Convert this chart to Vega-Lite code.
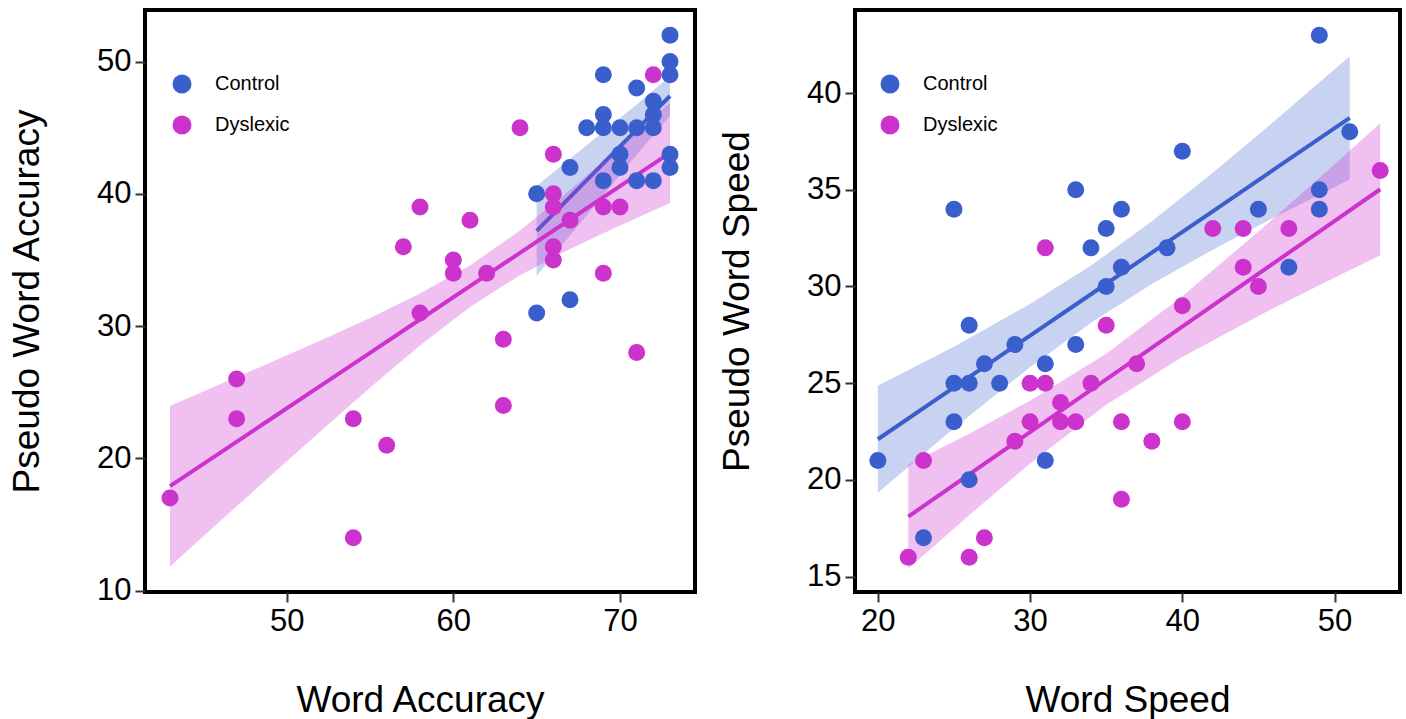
{
  "$schema": "https://vega.github.io/schema/vega-lite/v6.json",
  "padding": {"left": 6, "top": 8, "right": 0, "bottom": 0},
  "config": {
    "font": "Liberation Sans",
    "view": {"stroke": "black", "strokeWidth": 4},
    "axis": {"grid": false, "domain": false, "tickColor": "#333333", "tickWidth": 2, "tickSize": 10, "labelFontSize": 31, "labelColor": "black", "labelPadding": 4, "titleFontSize": 37, "titleFontWeight": "normal", "titleColor": "black"},
    "axisX": {"titlePadding": 46},
    "axisY": {"titlePadding": 50},
    "legend": {"padding": 0, "labelFontSize": 20, "labelColor": "black", "symbolSize": 361, "symbolStrokeWidth": 0, "symbolOpacity": 1, "rowPadding": 21, "labelOffset": 23}
  },
  "datasets": {
    "accPts": [
      {"g": "Control", "x": 73, "y": 52}, {"g": "Control", "x": 73, "y": 50}, {"g": "Control", "x": 73, "y": 49}, {"g": "Control", "x": 73, "y": 43}, {"g": "Control", "x": 73, "y": 42},
      {"g": "Control", "x": 72, "y": 47}, {"g": "Control", "x": 72, "y": 46}, {"g": "Control", "x": 72, "y": 45}, {"g": "Control", "x": 72, "y": 41},
      {"g": "Control", "x": 71, "y": 48}, {"g": "Control", "x": 71, "y": 45}, {"g": "Control", "x": 71, "y": 41},
      {"g": "Control", "x": 70, "y": 45}, {"g": "Control", "x": 70, "y": 43}, {"g": "Control", "x": 70, "y": 42},
      {"g": "Control", "x": 69, "y": 49}, {"g": "Control", "x": 69, "y": 46}, {"g": "Control", "x": 69, "y": 45}, {"g": "Control", "x": 69, "y": 41},
      {"g": "Control", "x": 68, "y": 45}, {"g": "Control", "x": 67, "y": 42}, {"g": "Control", "x": 67, "y": 32}, {"g": "Control", "x": 65, "y": 40}, {"g": "Control", "x": 65, "y": 31},
      {"g": "Dyslexic", "x": 72, "y": 49}, {"g": "Dyslexic", "x": 64, "y": 45}, {"g": "Dyslexic", "x": 66, "y": 43}, {"g": "Dyslexic", "x": 66, "y": 40}, {"g": "Dyslexic", "x": 66, "y": 39},
      {"g": "Dyslexic", "x": 67, "y": 38}, {"g": "Dyslexic", "x": 69, "y": 39}, {"g": "Dyslexic", "x": 70, "y": 39}, {"g": "Dyslexic", "x": 66, "y": 36}, {"g": "Dyslexic", "x": 66, "y": 35},
      {"g": "Dyslexic", "x": 58, "y": 39}, {"g": "Dyslexic", "x": 61, "y": 38}, {"g": "Dyslexic", "x": 57, "y": 36}, {"g": "Dyslexic", "x": 60, "y": 35}, {"g": "Dyslexic", "x": 60, "y": 34},
      {"g": "Dyslexic", "x": 62, "y": 34}, {"g": "Dyslexic", "x": 58, "y": 31}, {"g": "Dyslexic", "x": 69, "y": 34}, {"g": "Dyslexic", "x": 63, "y": 29}, {"g": "Dyslexic", "x": 71, "y": 28},
      {"g": "Dyslexic", "x": 47, "y": 26}, {"g": "Dyslexic", "x": 47, "y": 23}, {"g": "Dyslexic", "x": 54, "y": 23}, {"g": "Dyslexic", "x": 56, "y": 21}, {"g": "Dyslexic", "x": 43, "y": 17},
      {"g": "Dyslexic", "x": 54, "y": 14}, {"g": "Dyslexic", "x": 63, "y": 24}
    ],
    "accFit": [
      {"g": "Control", "x": 65, "fit": 37.2, "lo": 33.8, "hi": 40.6},
      {"g": "Control", "x": 67, "fit": 39.75, "lo": 36.85, "hi": 42.65},
      {"g": "Control", "x": 69, "fit": 42.3, "lo": 39.9, "hi": 44.7},
      {"g": "Control", "x": 71, "fit": 44.85, "lo": 42.95, "hi": 46.75},
      {"g": "Control", "x": 73, "fit": 47.4, "lo": 45.9, "hi": 48.9},
      {"g": "Dyslexic", "x": 43, "fit": 17.9, "lo": 11.83, "hi": 23.97},
      {"g": "Dyslexic", "x": 46, "fit": 20.42, "lo": 15.24, "hi": 25.6},
      {"g": "Dyslexic", "x": 49, "fit": 22.94, "lo": 18.65, "hi": 27.23},
      {"g": "Dyslexic", "x": 52, "fit": 25.46, "lo": 22.02, "hi": 28.9},
      {"g": "Dyslexic", "x": 55, "fit": 27.98, "lo": 25.34, "hi": 30.62},
      {"g": "Dyslexic", "x": 58, "fit": 30.5, "lo": 28.54, "hi": 32.46},
      {"g": "Dyslexic", "x": 61, "fit": 33.02, "lo": 31.45, "hi": 34.59},
      {"g": "Dyslexic", "x": 64, "fit": 35.54, "lo": 33.85, "hi": 37.23},
      {"g": "Dyslexic", "x": 67, "fit": 38.06, "lo": 35.83, "hi": 40.29},
      {"g": "Dyslexic", "x": 70, "fit": 40.58, "lo": 37.61, "hi": 43.55},
      {"g": "Dyslexic", "x": 73, "fit": 43.1, "lo": 39.3, "hi": 46.9}
    ],
    "spdPts": [
      {"g": "Control", "x": 49, "y": 43}, {"g": "Control", "x": 51, "y": 38}, {"g": "Control", "x": 40, "y": 37}, {"g": "Control", "x": 33, "y": 35}, {"g": "Control", "x": 25, "y": 34},
      {"g": "Control", "x": 36, "y": 34}, {"g": "Control", "x": 35, "y": 33}, {"g": "Control", "x": 34, "y": 32}, {"g": "Control", "x": 39, "y": 32}, {"g": "Control", "x": 45, "y": 34},
      {"g": "Control", "x": 49, "y": 35}, {"g": "Control", "x": 49, "y": 34}, {"g": "Control", "x": 36, "y": 31}, {"g": "Control", "x": 35, "y": 30}, {"g": "Control", "x": 47, "y": 31},
      {"g": "Control", "x": 26, "y": 28}, {"g": "Control", "x": 29, "y": 27}, {"g": "Control", "x": 33, "y": 27}, {"g": "Control", "x": 27, "y": 26}, {"g": "Control", "x": 31, "y": 26},
      {"g": "Control", "x": 25, "y": 25}, {"g": "Control", "x": 26, "y": 25}, {"g": "Control", "x": 28, "y": 25}, {"g": "Control", "x": 25, "y": 23}, {"g": "Control", "x": 20, "y": 21},
      {"g": "Control", "x": 31, "y": 21}, {"g": "Control", "x": 26, "y": 20}, {"g": "Control", "x": 23, "y": 17},
      {"g": "Dyslexic", "x": 53, "y": 36}, {"g": "Dyslexic", "x": 31, "y": 32}, {"g": "Dyslexic", "x": 42, "y": 33}, {"g": "Dyslexic", "x": 44, "y": 33}, {"g": "Dyslexic", "x": 47, "y": 33},
      {"g": "Dyslexic", "x": 44, "y": 31}, {"g": "Dyslexic", "x": 45, "y": 30}, {"g": "Dyslexic", "x": 40, "y": 29}, {"g": "Dyslexic", "x": 35, "y": 28}, {"g": "Dyslexic", "x": 37, "y": 26},
      {"g": "Dyslexic", "x": 30, "y": 25}, {"g": "Dyslexic", "x": 31, "y": 25}, {"g": "Dyslexic", "x": 34, "y": 25}, {"g": "Dyslexic", "x": 32, "y": 24}, {"g": "Dyslexic", "x": 30, "y": 23},
      {"g": "Dyslexic", "x": 32, "y": 23}, {"g": "Dyslexic", "x": 33, "y": 23}, {"g": "Dyslexic", "x": 36, "y": 23}, {"g": "Dyslexic", "x": 40, "y": 23}, {"g": "Dyslexic", "x": 29, "y": 22},
      {"g": "Dyslexic", "x": 38, "y": 22}, {"g": "Dyslexic", "x": 23, "y": 21}, {"g": "Dyslexic", "x": 36, "y": 19}, {"g": "Dyslexic", "x": 27, "y": 17}, {"g": "Dyslexic", "x": 22, "y": 16},
      {"g": "Dyslexic", "x": 26, "y": 16}
    ],
    "spdFit": [
      {"g": "Control", "x": 20, "fit": 22.1, "lo": 19.33, "hi": 24.87},
      {"g": "Control", "x": 25, "fit": 24.78, "lo": 22.67, "hi": 26.89},
      {"g": "Control", "x": 30, "fit": 27.46, "lo": 25.83, "hi": 29.09},
      {"g": "Control", "x": 34, "fit": 29.6, "lo": 28.12, "hi": 31.08},
      {"g": "Control", "x": 38, "fit": 31.75, "lo": 30.13, "hi": 33.37},
      {"g": "Control", "x": 42, "fit": 33.89, "lo": 31.9, "hi": 35.88},
      {"g": "Control", "x": 46, "fit": 36.04, "lo": 33.56, "hi": 38.52},
      {"g": "Control", "x": 51, "fit": 38.72, "lo": 35.53, "hi": 41.91},
      {"g": "Dyslexic", "x": 22, "fit": 18.1, "lo": 15.4, "hi": 20.8},
      {"g": "Dyslexic", "x": 26, "fit": 20.28, "lo": 18.17, "hi": 22.39},
      {"g": "Dyslexic", "x": 30, "fit": 22.47, "lo": 20.85, "hi": 24.09},
      {"g": "Dyslexic", "x": 35, "fit": 25.2, "lo": 23.88, "hi": 26.52},
      {"g": "Dyslexic", "x": 40, "fit": 27.93, "lo": 26.36, "hi": 29.5},
      {"g": "Dyslexic", "x": 45, "fit": 30.66, "lo": 28.48, "hi": 32.84},
      {"g": "Dyslexic", "x": 49, "fit": 32.84, "lo": 30.07, "hi": 35.61},
      {"g": "Dyslexic", "x": 53, "fit": 35.03, "lo": 31.62, "hi": 38.44}
    ]
  },
  "spacing": 19,
  "resolve": {"legend": {"color": "independent"}},
  "hconcat": [
    {
      "width": 550,
      "height": 582,
      "encoding": {
        "x": {"field": "x", "type": "quantitative", "title": "Word Accuracy", "scale": {"domain": [41.5, 74.5], "nice": false, "zero": false}, "axis": {"values": [50, 60, 70]}}
      },
      "layer": [
        {
          "data": {"name": "accFit"},
          "transform": [{"filter": "datum.g === 'Control'"}],
          "mark": {"type": "area", "color": "#3A5FCD", "opacity": 0.28},
          "encoding": {
            "y": {"field": "lo", "type": "quantitative", "title": "Pseudo Word Accuracy", "scale": {"domain": [9.9, 53.9], "nice": false, "zero": false}, "axis": {"values": [10, 20, 30, 40, 50]}},
            "y2": {"field": "hi"}
          }
        },
        {
          "data": {"name": "accFit"},
          "transform": [{"filter": "datum.g === 'Control'"}],
          "mark": {"type": "line", "color": "#3A5FCD", "strokeWidth": 4},
          "encoding": {
            "y": {"field": "fit", "type": "quantitative", "title": "Pseudo Word Accuracy", "scale": {"domain": [9.9, 53.9], "nice": false, "zero": false}, "axis": {"values": [10, 20, 30, 40, 50]}}
          }
        },
        {
          "data": {"name": "accFit"},
          "transform": [{"filter": "datum.g === 'Dyslexic'"}],
          "mark": {"type": "area", "color": "#CC33CC", "opacity": 0.3},
          "encoding": {
            "y": {"field": "lo", "type": "quantitative", "title": "Pseudo Word Accuracy", "scale": {"domain": [9.9, 53.9], "nice": false, "zero": false}, "axis": {"values": [10, 20, 30, 40, 50]}},
            "y2": {"field": "hi"}
          }
        },
        {
          "data": {"name": "accFit"},
          "transform": [{"filter": "datum.g === 'Dyslexic'"}],
          "mark": {"type": "line", "color": "#CC33CC", "strokeWidth": 4},
          "encoding": {
            "y": {"field": "fit", "type": "quantitative", "title": "Pseudo Word Accuracy", "scale": {"domain": [9.9, 53.9], "nice": false, "zero": false}, "axis": {"values": [10, 20, 30, 40, 50]}}
          }
        },
        {
          "data": {"name": "accPts"},
          "mark": {"type": "circle", "size": 289, "opacity": 1},
          "encoding": {
            "y": {"field": "y", "type": "quantitative", "title": "Pseudo Word Accuracy", "scale": {"domain": [9.9, 53.9], "nice": false, "zero": false}, "axis": {"values": [10, 20, 30, 40, 50]}},
            "color": {"field": "g", "type": "nominal", "scale": {"domain": ["Control", "Dyslexic"], "range": ["#3A5FCD", "#CC33CC"]}, "legend": {"title": null, "orient": "none", "legendX": 27, "legendY": 64}}
          }
        }
      ]
    },
    {
      "width": 545,
      "height": 582,
      "encoding": {
        "x": {"field": "x", "type": "quantitative", "title": "Word Speed", "scale": {"domain": [18.5, 54.3], "nice": false, "zero": false}, "axis": {"values": [20, 30, 40, 50]}}
      },
      "layer": [
        {
          "data": {"name": "spdFit"},
          "transform": [{"filter": "datum.g === 'Control'"}],
          "mark": {"type": "area", "color": "#3A5FCD", "opacity": 0.28},
          "encoding": {
            "y": {"field": "lo", "type": "quantitative", "title": "Pseudo Word Speed", "scale": {"domain": [14.2, 44.3], "nice": false, "zero": false}, "axis": {"values": [15, 20, 25, 30, 35, 40]}},
            "y2": {"field": "hi"}
          }
        },
        {
          "data": {"name": "spdFit"},
          "transform": [{"filter": "datum.g === 'Control'"}],
          "mark": {"type": "line", "color": "#3A5FCD", "strokeWidth": 4},
          "encoding": {
            "y": {"field": "fit", "type": "quantitative", "title": "Pseudo Word Speed", "scale": {"domain": [14.2, 44.3], "nice": false, "zero": false}, "axis": {"values": [15, 20, 25, 30, 35, 40]}}
          }
        },
        {
          "data": {"name": "spdFit"},
          "transform": [{"filter": "datum.g === 'Dyslexic'"}],
          "mark": {"type": "area", "color": "#CC33CC", "opacity": 0.3},
          "encoding": {
            "y": {"field": "lo", "type": "quantitative", "title": "Pseudo Word Speed", "scale": {"domain": [14.2, 44.3], "nice": false, "zero": false}, "axis": {"values": [15, 20, 25, 30, 35, 40]}},
            "y2": {"field": "hi"}
          }
        },
        {
          "data": {"name": "spdFit"},
          "transform": [{"filter": "datum.g === 'Dyslexic'"}],
          "mark": {"type": "line", "color": "#CC33CC", "strokeWidth": 4},
          "encoding": {
            "y": {"field": "fit", "type": "quantitative", "title": "Pseudo Word Speed", "scale": {"domain": [14.2, 44.3], "nice": false, "zero": false}, "axis": {"values": [15, 20, 25, 30, 35, 40]}}
          }
        },
        {
          "data": {"name": "spdPts"},
          "mark": {"type": "circle", "size": 289, "opacity": 1},
          "encoding": {
            "y": {"field": "y", "type": "quantitative", "title": "Pseudo Word Speed", "scale": {"domain": [14.2, 44.3], "nice": false, "zero": false}, "axis": {"values": [15, 20, 25, 30, 35, 40]}},
            "color": {"field": "g", "type": "nominal", "scale": {"domain": ["Control", "Dyslexic"], "range": ["#3A5FCD", "#CC33CC"]}, "legend": {"title": null, "orient": "none", "legendX": 25, "legendY": 64}}
          }
        }
      ]
    }
  ]
}
